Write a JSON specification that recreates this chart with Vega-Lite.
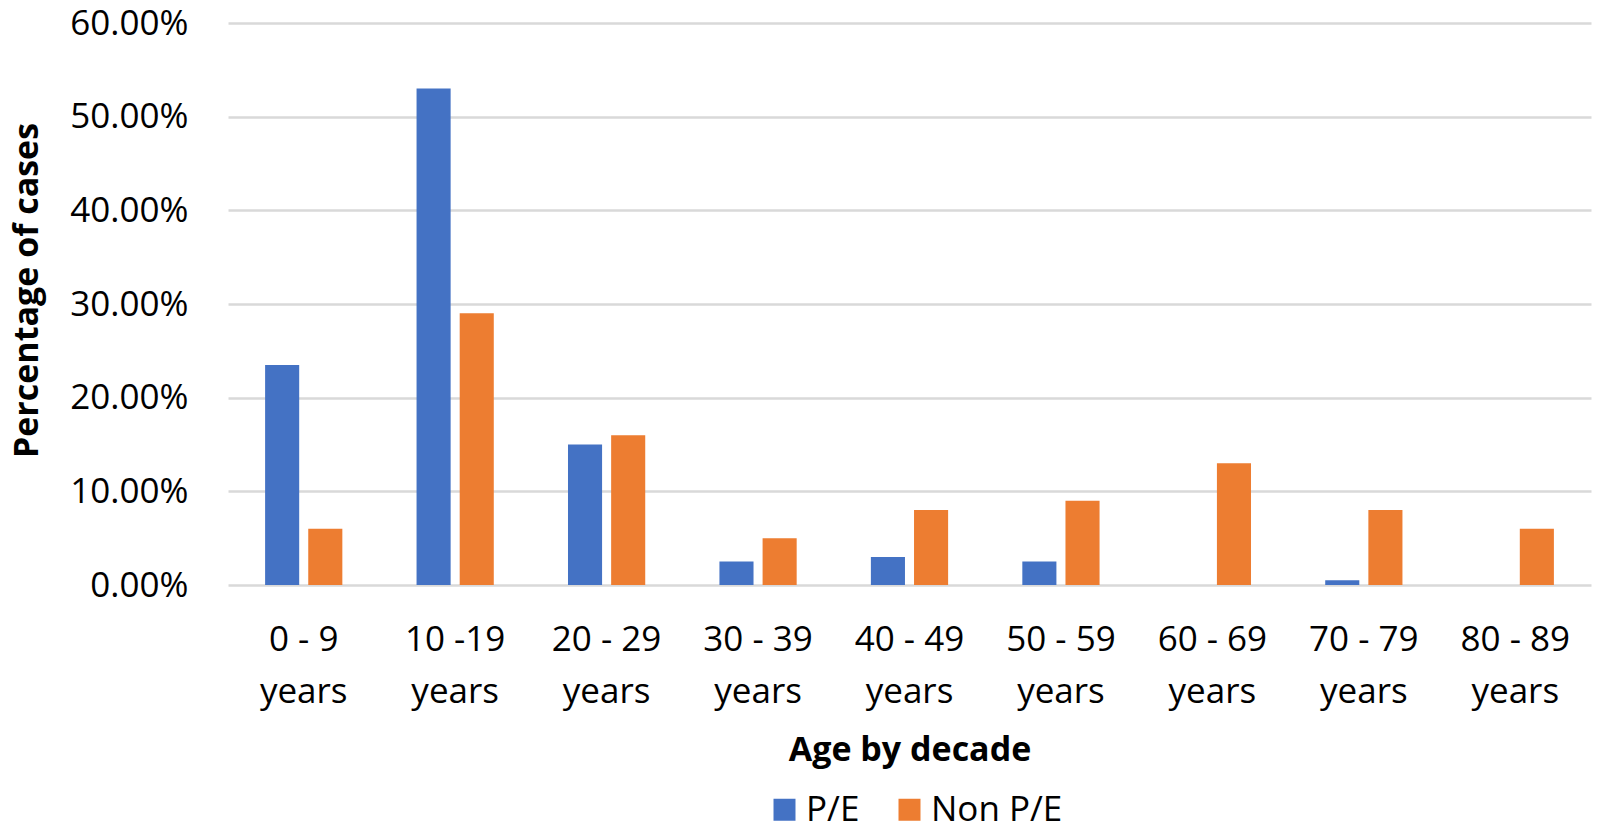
{
  "$schema": "https://vega.github.io/schema/vega-lite/v6.json",
  "autosize": "none",
  "width": 1363,
  "height": 562,
  "padding": {"left": 228, "top": 23, "right": 9, "bottom": 250},
  "background": "white",
  "config": {
    "font": "Open Sans",
    "view": {"stroke": null}
  },
  "data": {
    "values": [
      {"age": "0 - 9 years", "group": "P/E", "pct": 0.235},
      {"age": "0 - 9 years", "group": "Non P/E", "pct": 0.06},
      {"age": "10 -19 years", "group": "P/E", "pct": 0.53},
      {"age": "10 -19 years", "group": "Non P/E", "pct": 0.29},
      {"age": "20 - 29 years", "group": "P/E", "pct": 0.15},
      {"age": "20 - 29 years", "group": "Non P/E", "pct": 0.16},
      {"age": "30 - 39 years", "group": "P/E", "pct": 0.025},
      {"age": "30 - 39 years", "group": "Non P/E", "pct": 0.05},
      {"age": "40 - 49 years", "group": "P/E", "pct": 0.03},
      {"age": "40 - 49 years", "group": "Non P/E", "pct": 0.08},
      {"age": "50 - 59 years", "group": "P/E", "pct": 0.025},
      {"age": "50 - 59 years", "group": "Non P/E", "pct": 0.09},
      {"age": "60 - 69 years", "group": "P/E", "pct": 0.0},
      {"age": "60 - 69 years", "group": "Non P/E", "pct": 0.13},
      {"age": "70 - 79 years", "group": "P/E", "pct": 0.005},
      {"age": "70 - 79 years", "group": "Non P/E", "pct": 0.08},
      {"age": "80 - 89 years", "group": "P/E", "pct": 0.0},
      {"age": "80 - 89 years", "group": "Non P/E", "pct": 0.06}
    ]
  },
  "mark": {"type": "bar"},
  "encoding": {
    "x": {
      "field": "age",
      "type": "nominal",
      "sort": null,
      "scale": {"paddingInner": 0.49, "paddingOuter": 0.245},
      "axis": {
        "title": "Age by decade",
        "titleFont": "Open Sans",
        "titleFontSize": 34,
        "titleFontWeight": "bold",
        "titleColor": "black",
        "titlePadding": 24,
        "labelAngle": 0,
        "labelFont": "Open Sans",
        "labelFontSize": 35,
        "labelColor": "black",
        "labelLineHeight": 52,
        "labelPadding": 37,
        "labelExpr": "[replace(datum.label, ' years', ''), 'years']",
        "ticks": false,
        "domain": false,
        "grid": false
      }
    },
    "xOffset": {
      "field": "group",
      "type": "nominal",
      "sort": ["P/E", "Non P/E"],
      "scale": {"paddingInner": 0.21, "paddingOuter": 0}
    },
    "y": {
      "field": "pct",
      "type": "quantitative",
      "scale": {"domain": [0, 0.6]},
      "axis": {
        "title": "Percentage of cases",
        "titleFont": "Open Sans",
        "titleFontSize": 34,
        "titleFontWeight": "bold",
        "titleColor": "black",
        "titlePadding": 25,
        "titleY": 267,
        "format": ".2%",
        "values": [0, 0.1, 0.2, 0.3, 0.4, 0.5, 0.6],
        "labelFont": "Open Sans",
        "labelFontSize": 35,
        "labelColor": "black",
        "labelPadding": 40,
        "ticks": false,
        "domain": false,
        "grid": true,
        "gridColor": "#d9d9d9",
        "gridWidth": 2.5
      }
    },
    "color": {
      "field": "group",
      "type": "nominal",
      "sort": ["P/E", "Non P/E"],
      "scale": {"domain": ["P/E", "Non P/E"], "range": ["#4472C4", "#ED7D31"]},
      "legend": {
        "title": null,
        "orient": "none",
        "legendX": 539,
        "legendY": 769,
        "direction": "horizontal",
        "symbolType": "square",
        "symbolSize": 484,
        "symbolStrokeWidth": 0,
        "labelFont": "Open Sans",
        "labelFontSize": 35,
        "labelColor": "black",
        "labelOffset": 4,
        "columnPadding": 32
      }
    }
  }
}
